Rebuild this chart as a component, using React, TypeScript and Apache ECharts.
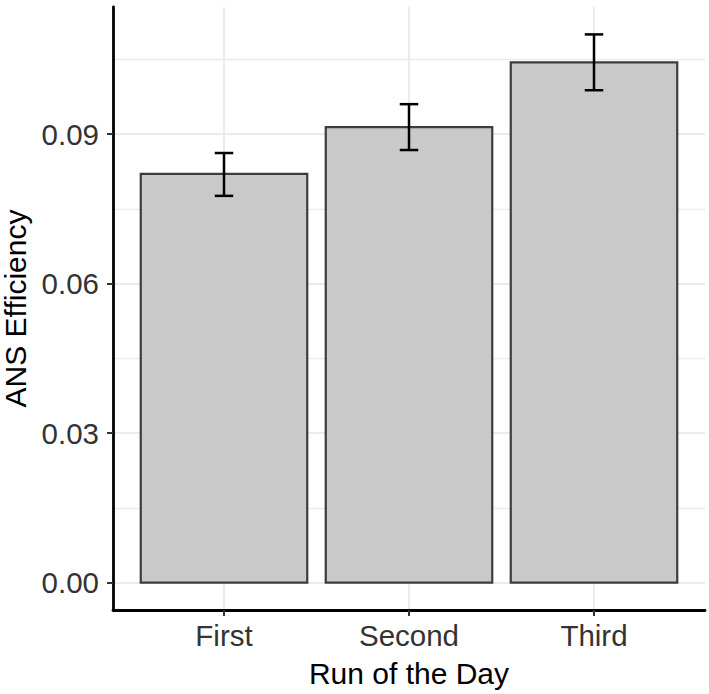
import React, { useEffect, useRef } from "react";
import * as echarts from "echarts";

const categories = ["First", "Second", "Third"];
const means = [0.082, 0.0914, 0.1044];
const lower = [0.0776, 0.0868, 0.0988];
const upper = [0.0862, 0.096, 0.11];
const yMajorTicks = [0, 0.03, 0.06, 0.09];
const yMinorTicks = [0.015, 0.045, 0.075, 0.105];
const xPositions = [1, 2, 3];

const FONT = "'Liberation Sans', Arial, Helvetica, sans-serif";

export default function App() {
  const ref = useRef<HTMLDivElement>(null);
  useEffect(() => {
    if (!ref.current) return;
    const chart = echarts.init(ref.current, undefined, { renderer: "svg" });
    const barData = categories.map((c, i) => [xPositions[i], means[i]]);
    const errData = categories.map((c, i) => [xPositions[i], lower[i], upper[i]]);
    const yMin = -0.0055;
    const yMax = 0.1155;
    chart.setOption({
      animation: false,
      backgroundColor: "#ffffff",
      grid: {
        left: 113,
        top: 7,
        width: 592,
        height: 603,
        containLabel: false,
        outerBoundsMode: "none",
      },
      xAxis: {
        type: "value",
        min: 0.4,
        max: 3.6,
        name: "Run of the Day",
        nameLocation: "middle",
        nameGap: 48,
        nameTextStyle: { fontFamily: FONT, fontSize: 30, color: "#000" },
        axisLine: { show: true, onZero: false, lineStyle: { color: "#000", width: 2.8 } },
        axisTick: { show: true, length: 6, customValues: xPositions, lineStyle: { color: "#333", width: 2 } },
        axisLabel: {
          show: true,
          customValues: xPositions,
          margin: 10,
          fontFamily: FONT,
          fontSize: 29.5,
          color: "#333",
          formatter: (v: number) => categories[Math.round(v) - 1] ?? "",
        },
        splitLine: { show: true, lineStyle: { color: "#ebebeb", width: 2 } },
      },
      yAxis: [
        {
          type: "value",
          min: yMin,
          max: yMax,
          name: "ANS Efficiency",
          nameLocation: "middle",
          nameGap: 76,
          nameTextStyle: { fontFamily: FONT, fontSize: 30, color: "#000" },
          axisLine: { show: true, onZero: false, lineStyle: { color: "#000", width: 2.8 } },
          axisTick: { show: true, length: 6, customValues: yMajorTicks, lineStyle: { color: "#333", width: 2 } },
          axisLabel: {
            show: true,
            customValues: yMajorTicks,
            margin: 14,
            fontFamily: FONT,
            fontSize: 29.5,
            color: "#333",
            formatter: (v: number) => v.toFixed(2),
          },
          splitLine: { show: true, lineStyle: { color: "#ebebeb", width: 2 } },
          z: 3,
        },
        {
          type: "value",
          min: yMin,
          max: yMax,
          axisLine: { show: false },
          axisTick: { show: false, customValues: yMinorTicks },
          axisLabel: { show: false, customValues: yMinorTicks },
          splitLine: { show: true, lineStyle: { color: "#ebebeb", width: 1.3 } },
        },
      ],
      series: [
        {
          type: "custom",
          name: "bars",
          yAxisIndex: 0,
          data: barData,
          z: 5,
          renderItem: (params: any, api: any) => {
            const x = api.value(0);
            const y = api.value(1);
            const p0 = api.coord([x - 0.45, y]);
            const p1 = api.coord([x + 0.45, 0]);
            return {
              type: "rect",
              shape: { x: p0[0], y: p0[1], width: p1[0] - p0[0], height: p1[1] - p0[1] },
              style: { fill: "#c9c9c9", stroke: "#3d3d3d", lineWidth: 2.2 },
            };
          },
        },
        {
          type: "custom",
          name: "errors",
          yAxisIndex: 0,
          data: errData,
          z: 6,
          renderItem: (params: any, api: any) => {
            const x = api.value(0);
            const lo = api.value(1);
            const hi = api.value(2);
            const top = api.coord([x, hi]);
            const bot = api.coord([x, lo]);
            const capL = api.coord([x - 0.05, hi]);
            const capR = api.coord([x + 0.05, hi]);
            const capL2 = api.coord([x - 0.05, lo]);
            const capR2 = api.coord([x + 0.05, lo]);
            const st = { stroke: "#000", lineWidth: 2.5 };
            return {
              type: "group",
              children: [
                { type: "line", shape: { x1: top[0], y1: top[1], x2: bot[0], y2: bot[1] }, style: st },
                { type: "line", shape: { x1: capL[0], y1: capL[1], x2: capR[0], y2: capR[1] }, style: st },
                { type: "line", shape: { x1: capL2[0], y1: capL2[1], x2: capR2[0], y2: capR2[1] }, style: st },
              ],
            };
          },
        },
      ],
    });
    return () => chart.dispose();
  }, []);
  return (
    <div
      ref={ref}
      style={{ position: "fixed", left: 0, top: 0, width: 709, height: 694, background: "#fff" }}
    />
  );
}
